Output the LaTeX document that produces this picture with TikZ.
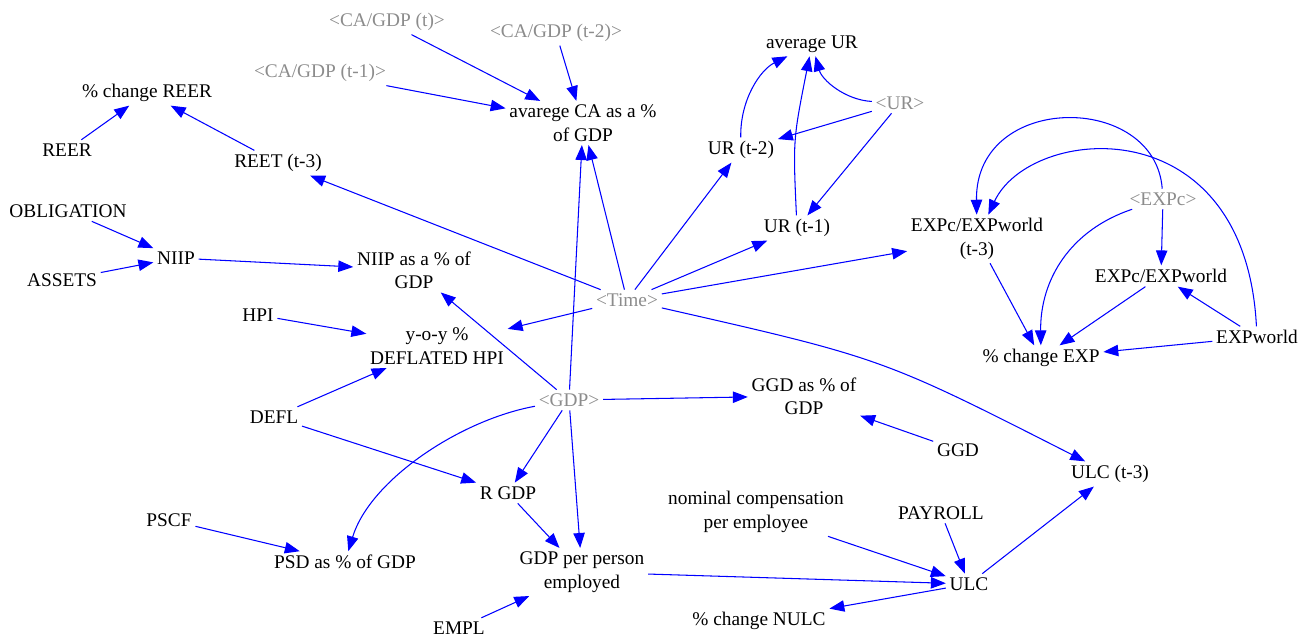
\documentclass[tikz,border=0pt]{standalone}
\usepackage{fontspec}
\setmainfont{Liberation Serif}
\usetikzlibrary{arrows.meta}

\definecolor{linkblue}{RGB}{0,0,255}
\definecolor{shadowgray}{RGB}{140,140,140}

\begin{document}
\begin{tikzpicture}[%
    x=0.02cm, y=-0.02cm,                    % one unit is one pixel of the sketch
    >={Triangle[length=8.5pt,width=6.5pt]}, % Vensim-like filled heads
    font=\fontsize{11}{13.3}\selectfont,
    ]
% -------------------------------------------------
% Variable and link styles
\tikzset{
  var/.style={inner sep=2pt, align=center},
  shadow/.style={var, text=shadowgray},
  % Connector line style
  link/.style={->, draw=linkblue, line width=0.6pt},
}
\useasboundingbox (0,0) rectangle (1306,639);
% -------------------------------------------------
% Start by placing the variables
\node [shadow] (caT)  at (387,22)  {<CA/GDP (t)>};
\node [shadow] (caT2) at (556,33)  {<CA/GDP (t-2)>};
\node [shadow] (caT1) at (320,73)  {<CA/GDP (t-1)>};
\node [var] (avgCA)   at (583,123) {avarege CA as a \%\\of GDP};
\node [var] (avgUR)   at (812,44)  {average UR};
\node [shadow] (ur)   at (900,103) {<UR>};
\node [var] (urT2)    at (741,150) {UR (t-2)};
\node [var] (urT1)    at (797,228) {UR (t-1)};
\node [var] (chREER)  at (147,93)  {\% change REER};
\node [var] (reer)    at (67,150)  {REER};
\node [var] (reet)    at (278,163) {REET (t-3)};
\node [var] (oblig)   at (68,211)  {OBLIGATION};
\node [var] (niip)    at (176,258) {NIIP};
\node [var] (assets)  at (62,280)  {ASSETS};
\node [var] (niipGDP) at (414,270) {NIIP as a \% of\\GDP};
\node [shadow] (time) at (627,300) {<Time>};
\node [var] (expT3)   at (977,239) {EXPc/EXPworld\\(t-3)};
\node [shadow] (expc) at (1163,199) {<EXPc>};
\node [var] (expRatio) at (1161,276) {EXPc/EXPworld};
\node [var] (expW)    at (1257,337) {EXPworld};
\node [var] (chEXP)   at (1041,358) {\% change EXP};
\node [var] (hpi)     at (258,315) {HPI};
\node [var] (dhpi)    at (437,346) {y-o-y \%\\DEFLATED HPI};
\node [var] (defl)    at (274,417) {DEFL};
\node [shadow] (gdp)  at (569,400) {<GDP>};
\node [var] (ggdGDP)  at (804,396) {GGD as \% of\\GDP};
\node [var] (ggd)     at (958,450) {GGD};
\node [var] (ulcT3)   at (1110,474) {ULC (t-3)};
\node [var] (rgdp)    at (508,493) {R GDP};
\node [var] (pscf)    at (169,520) {PSCF};
\node [var] (psd)     at (345,562) {PSD as \% of GDP};
\node [var] (nomComp) at (756,512) {nominal compensation\\per employee};
\node [var] (payroll) at (941,513) {PAYROLL};
\node [var] (gdpEmp)  at (582,572) {GDP per person\\employed};
\node [var] (ulc)     at (969,584) {ULC};
\node [var] (chNULC)  at (759,621) {\% change NULC};
\node [var] (empl)    at (459,628) {EMPL};

% -------------------------------------------------
% Links, top left to bottom right
\draw [link] (caT) -- (avgCA);
\draw [link] (caT2) -- (avgCA);
\draw [link] (caT1) -- (avgCA);
\draw [link] (reer) -- (chREER);
\draw [link] (reet) -- (chREER);
\draw [link] (oblig) -- (niip);
\draw [link] (assets) -- (niip);
\draw [link] (niip) -- (niipGDP);
\draw [link] (hpi) -- (dhpi);
\draw [link] (defl) -- (dhpi);

% everything that <Time> feeds
\draw [link] (time) -- (reet);
\draw [link] (time) -- (dhpi);
\draw [link] (time) -- (avgCA);
\draw [link] (time) -- (urT2);
\draw [link] (time) -- (urT1);
\draw [link] (time) -- (expT3);
\draw [link] (time) .. controls (882,358) .. (ulcT3);

% unemployment average
\draw [link] (ur) .. controls (845,100) and (822,80) .. (avgUR);
\draw [link] (ur) -- (urT2);
\draw [link] (ur) -- (urT1);
\draw [link] (urT2) .. controls (740,100) and (760,70) .. (avgUR);
\draw [link] (urT1) .. controls (793,140) .. (avgUR);

% export share
\draw [link] (expc) .. controls (1155,92) and (975,92) .. (expT3);
\draw [link] (expW) .. controls (1245,105) and (1030,125) .. (expT3);
\draw [link] (expc) -- (expRatio);
\draw [link] (expc) .. controls (1070,230) and (1040,280) .. (chEXP);
\draw [link] (expT3) -- (chEXP);
\draw [link] (expRatio) -- (chEXP);
\draw [link] (expW) -- (expRatio);
\draw [link] (expW) -- (chEXP);

% everything that <GDP> feeds
\draw [link] (gdp) -- (niipGDP);
\draw [link] (gdp) -- (avgCA);
\draw [link] (gdp) -- (ggdGDP);
\draw [link] (gdp) .. controls (460,420) and (370,480) .. (psd);
\draw [link] (gdp) -- (rgdp);
\draw [link] (gdp) -- (gdpEmp);
\draw [link] (ggd) -- (ggdGDP);

% real GDP and labour costs
\draw [link] (defl) -- (rgdp);
\draw [link] (rgdp) -- (gdpEmp);
\draw [link] (pscf) -- (psd);
\draw [link] (empl) -- (gdpEmp);
\draw [link] (gdpEmp) -- (ulc);
\draw [link] (nomComp) -- (ulc);
\draw [link] (payroll) -- (ulc);
\draw [link] (ulc) -- (ulcT3);
\draw [link] (ulc) -- (chNULC);

% -------------------------------------------------
\end{tikzpicture}
\end{document}
